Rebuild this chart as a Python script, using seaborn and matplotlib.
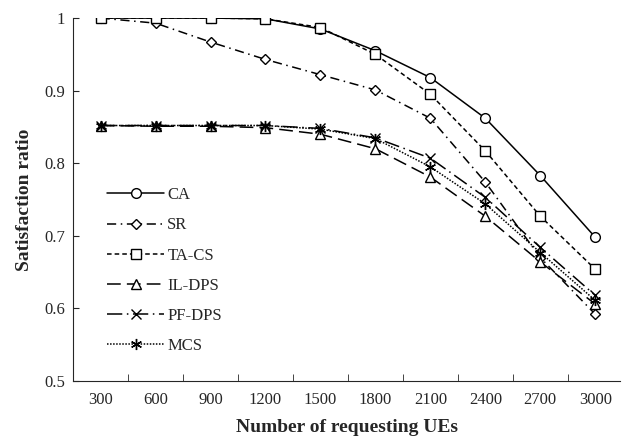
import numpy as np
import pandas as pd
import matplotlib
matplotlib.use("Agg")
import matplotlib.pyplot as plt
import seaborn as sns

ues = [300, 600, 900, 1200, 1500, 1800, 2100, 2400, 2700, 3000]
ca = [1.0, 1.0, 1.0, 0.999, 0.985, 0.955, 0.918, 0.862, 0.783, 0.698]
sr = [1.0, 0.993, 0.967, 0.943, 0.922, 0.901, 0.862, 0.774, 0.670, 0.592]
ta_cs = [1.0, 1.0, 1.0, 0.999, 0.987, 0.950, 0.895, 0.817, 0.727, 0.654]
il_dps = [0.852, 0.851, 0.851, 0.849, 0.840, 0.820, 0.781, 0.727, 0.664, 0.606]
pf_dps = [0.852, 0.852, 0.852, 0.852, 0.848, 0.835, 0.807, 0.753, 0.684, 0.618]
mcs = [0.852, 0.852, 0.852, 0.852, 0.847, 0.834, 0.795, 0.744, 0.677, 0.611]

names = ["CA", "SR", "TA-CS", "IL-DPS", "PF-DPS", "MCS"]
series = [ca, sr, ta_cs, il_dps, pf_dps, mcs]
markers = ["o", "D", "s", "^", "x", (6, 2, 0)]
dashes = ["-", (0, (6, 3, 1, 3)), (0, (3, 2)), (0, (9, 4)), (0, (10, 3, 1, 3)), (0, (1, 1))]
msizes = [7, 5, 6.5, 7, 7, 8]

sns.set_style("ticks")
plt.rcParams["font.family"] = ["Liberation Serif", "DejaVu Serif"]

fig = plt.figure(figsize=(6.25, 4.41), dpi=100)
ax = fig.add_axes([0.117, 0.136, 0.875, 0.823])

pos = np.arange(len(ues))
for name, vals, m, ls, ms in zip(names, series, markers, dashes, msizes):
    sns.lineplot(x=pos, y=vals, ax=ax, color="black", lw=1.1, linestyle=ls,
                 marker=m, markersize=ms, markerfacecolor="white",
                 markeredgecolor="black", markeredgewidth=1.0, label=name)

ax.set_xlim(-0.5, 9.45)
ax.set_ylim(0.5, 1.0)
ax.set_xticks(pos)
ax.set_xticklabels([str(u) for u in ues], fontsize=12)
ax.set_xticks(pos[:-1] + 0.5, minor=True)
ax.tick_params(axis="x", which="major", length=0, pad=8)
ax.tick_params(axis="x", which="minor", direction="in", length=5)
ax.set_yticks([0.5, 0.6, 0.7, 0.8, 0.9, 1.0])
ax.set_yticklabels(["0.5", "0.6", "0.7", "0.8", "0.9", "1"], fontsize=12)
ax.tick_params(axis="y", direction="in", length=4, pad=6)
sns.despine(ax=ax)
ax.set_xlabel("Number of requesting UEs", fontsize=14, fontweight="bold", labelpad=8)
ax.set_ylabel("Satisfaction ratio", fontsize=14, fontweight="bold", labelpad=8)

ax.legend(loc="upper left", bbox_to_anchor=(0.035, 0.575), frameon=False,
          fontsize=12, handlelength=3.4, labelspacing=0.85, handletextpad=0.2)

fig.savefig("out.png", dpi=100)
